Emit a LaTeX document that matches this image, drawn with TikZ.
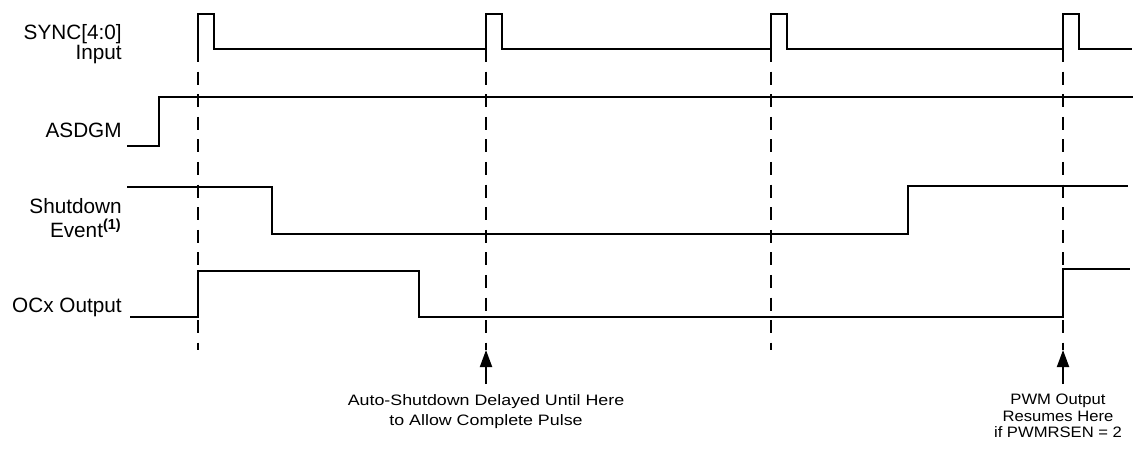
\documentclass[tikz,border=0pt]{standalone}
\usepackage{fontspec}
\setmainfont{Liberation Sans}
\newfontfamily\notefont[FakeStretch=1.18]{Liberation Sans}
\newfontfamily\pwmfont[FakeStretch=1.1]{Liberation Sans}
\usetikzlibrary{arrows.meta}
\tikzset{
  sig/.style={line width=1.2pt, line join=miter, color=black},
  grd/.style={line width=1.1pt, dash pattern=on 0.26cm off 0.192cm},
  arr/.style={-{Triangle[length=3.4mm, width=2.4mm]}, line width=1.1pt},
  lbl/.style={font=\fontsize{11.8}{13}\selectfont, inner sep=0pt, align=right},
  note/.style={font=\notefont\fontsize{8.6}{11.4}\selectfont, inner sep=0pt, align=center, anchor=north},
}

\begin{document}
\begin{tikzpicture}[x=0.02cm, y=-0.02cm]
    \useasboundingbox (0,0) rectangle (1135,450);
    % signal names
    \node[lbl, anchor=north east, font=\fontsize{11.8}{10.1}\selectfont] (lsync) at (122,24) {SYNC[4:0]\\Input};
    \node[lbl, anchor=base east] (lasd) at (122,137) {ASDGM};
    \node[lbl, anchor=north east, font=\fontsize{11.8}{13.7}\selectfont] (lshd) at (122,198) {Shutdown\\Event\textsuperscript{\textbf{(1)}}};
    \node[lbl, anchor=base east] (locx) at (122,312.5) {OCx Output};
    % waveforms
    \draw[sig] (198,49) |- (214,14) |- (486,49) |- (502,14) |- (771,49) |- (787,14) |- (1063,49) |- (1079,14) |- (1132,49);
    \draw[sig] (127,146) -| (159,97) -- (1133,97);
    \draw[sig] (127,187) -| (272,234) -| (908,186) -- (1128,186);
    \draw[sig] (130,317) -| (198,271) -| (419,317) -| (1063,269) -- (1130,269);
    % sync edges
    \foreach \x in {198,486,771,1063}
      { \draw[grd] (\x,49) -- (\x,350); }
    \coordinate (tipA) at (486,350);
    \coordinate (endA) at (486,384);
    \coordinate (tipB) at (1063,350);
    \coordinate (endB) at (1063,384);
    \draw[arr] (endA) -- (tipA);
    \draw[arr] (endB) -- (tipB);
    \node[note] (nauto) at (486,394) {Auto-Shutdown Delayed Until Here\\to Allow Complete Pulse};
    \node[note, font=\pwmfont\fontsize{8.6}{9.4}\selectfont] (npwm) at (1058,394) {PWM Output\\Resumes Here\\if PWMRSEN = 2};
\end{tikzpicture}
\end{document}
